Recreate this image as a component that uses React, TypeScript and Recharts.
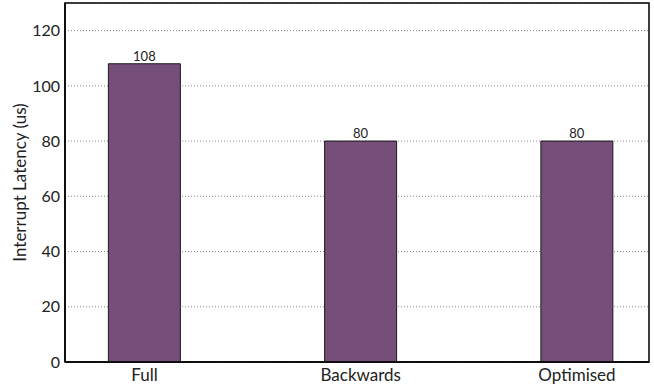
import { BarChart, Bar, XAxis, YAxis, CartesianGrid, LabelList, ReferenceArea } from 'recharts';

// bar categories and measured latency in microseconds
const categories = ['Full', 'Backwards', 'Optimised'];
const latency = [108, 80, 80];
const yTicks = [0, 20, 40, 60, 80, 100, 120];

const data = categories.map((name, i) => ({ pos: i, name, latency: latency[i] }));

const X_DOMAIN: [number, number] = [-0.3676, 2.333];
const FONT = 'Lato, "DejaVu Sans", sans-serif';

export default function App() {
  return (
    <div style={{ position: 'absolute', left: 0, top: 0, background: '#fff' }}>
      <BarChart
        width={654}
        height={385}
        data={data}
        margin={{ top: 3, right: 5, bottom: 0, left: 0 }}
        style={{ fontFamily: FONT }}
      >
        <CartesianGrid vertical={false} stroke="#8a8a8a" strokeDasharray="1 2" />
        <XAxis
          dataKey="pos"
          type="number"
          domain={X_DOMAIN}
          allowDataOverflow
          ticks={[0, 1, 2]}
          tickFormatter={(v: number) => categories[v] ?? ''}
          height={23}
          tickLine={false}
          tickMargin={1}
          axisLine={{ stroke: '#000', strokeWidth: 1.5 }}
          tick={{ fill: '#222', fontSize: 17 }}
        />
        <YAxis
          domain={[0, 130]}
          ticks={yTicks}
          width={65}
          tickLine={false}
          tickSize={4}
          tickMargin={1}
          axisLine={{ stroke: '#000', strokeWidth: 1.5 }}
          tick={{ fill: '#222', fontSize: 16 }}
          label={{
            value: 'Interrupt Latency (us)',
            angle: -90,
            position: 'insideLeft',
            offset: 20,
            style: { textAnchor: 'middle', fill: '#222', fontSize: 17 },
          }}
        />
        <ReferenceArea
          x1={X_DOMAIN[0]}
          x2={X_DOMAIN[1]}
          y1={0}
          y2={130}
          fill="none"
          stroke="#000"
          strokeWidth={1.5}
          ifOverflow="visible"
        />
        <Bar dataKey="latency" barSize={72} fill="#754e7a" stroke="#1a1a1a" strokeWidth={1} isAnimationActive={false}>
          <LabelList dataKey="latency" position="top" offset={3} style={{ fill: '#222', fontSize: 13 }} />
        </Bar>
      </BarChart>
    </div>
  );
}
